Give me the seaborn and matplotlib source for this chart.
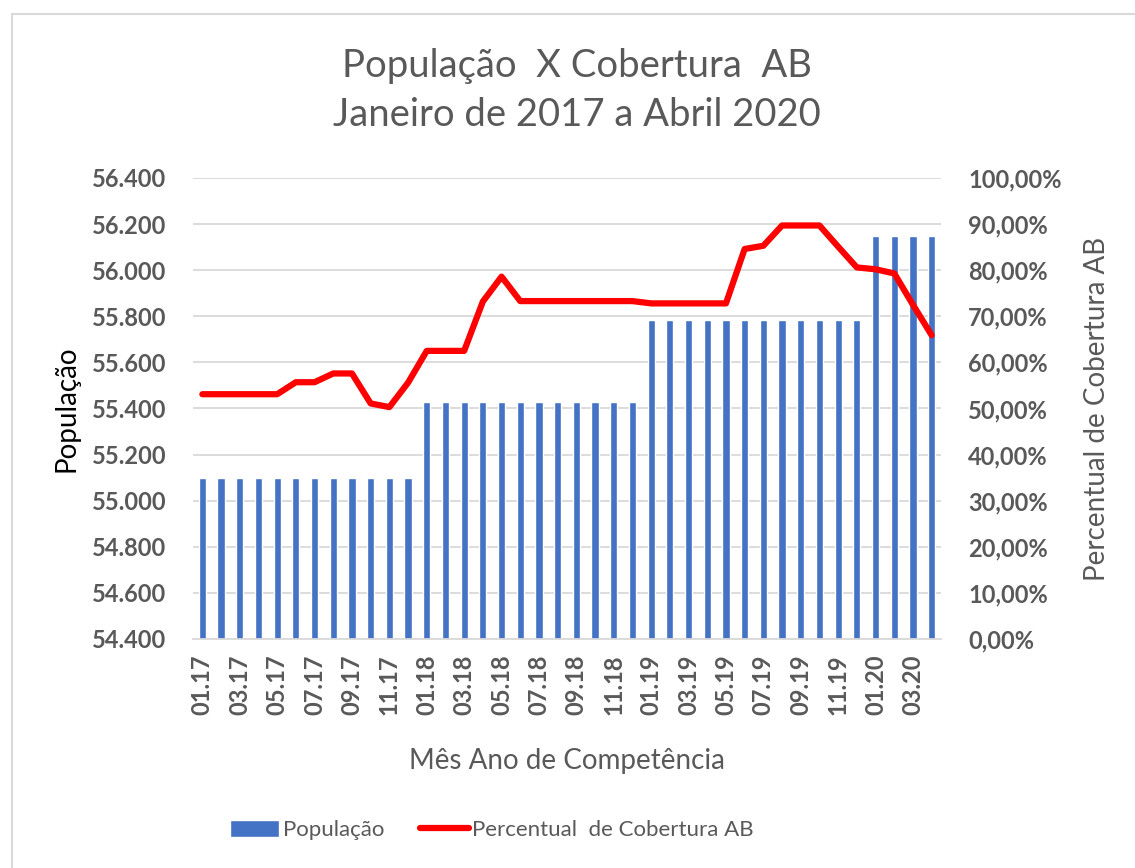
import matplotlib
matplotlib.use("Agg")
import matplotlib.pyplot as plt
import seaborn as sns
import pandas as pd
import numpy as np
from matplotlib.patches import Rectangle
from matplotlib.ticker import FuncFormatter, MultipleLocator

# ---- data ----
months = [f"{m:02d}.{y}" for y in (17, 18, 19) for m in range(1, 13)] + [f"{m:02d}.20" for m in range(1, 5)]
populacao = [55100] * 12 + [55430] * 12 + [55785] * 12 + [56150] * 4
cobertura = [53.1, 53.1, 53.1, 53.1, 53.1, 55.7, 55.7, 57.6, 57.6, 51.1, 50.3, 55.6,
             62.5, 62.5, 62.5, 73.2, 78.6, 73.3, 73.3, 73.3, 73.3, 73.3, 73.3, 73.3,
             72.8, 72.8, 72.8, 72.8, 72.8, 84.6, 85.3, 89.7, 89.7, 89.7, 85.1, 80.6,
             80.2, 79.3, 72.5, 65.9]

df = pd.DataFrame({"mes": months, "populacao": populacao, "cobertura": cobertura,
                   "idx": np.arange(len(months))})

sns.set_theme(style="white")
plt.rcParams["font.family"] = ["Lato", "DejaVu Sans"]

gray = "#595959"
fig = plt.figure(figsize=(11.35, 8.68), dpi=100)
ax = fig.add_axes([193 / 1135, 229 / 868, 748 / 1135, 461 / 868])

sns.barplot(data=df, x="mes", y="populacao", color="#4472C4", width=0.38,
            saturation=1, ax=ax, label="População")
ax.set_ylim(54400, 56400)
ax.yaxis.set_major_locator(MultipleLocator(200))
ax.yaxis.set_major_formatter(FuncFormatter(lambda v, p: f"{v:,.0f}".replace(",", ".")))
ax.set_xlim(-0.5, len(months) - 0.5)
ax.grid(axis="y", color="#D9D9D9", linewidth=1.3)
ax.set_axisbelow(True)
for s in ["top", "left", "right"]:
    ax.spines[s].set_visible(False)
ax.spines["bottom"].set_color("#D9D9D9")
ax.spines["bottom"].set_linewidth(1.3)

ticks = list(range(0, len(months), 2))
ax.set_xticks(ticks)
ax.set_xticklabels([months[i] for i in ticks], rotation=90, fontsize=17,
                   fontweight="bold", color=gray)
ax.tick_params(axis="x", length=0, pad=11)
ax.tick_params(axis="y", length=0, pad=19, labelsize=17, labelcolor=gray)
for t in ax.get_yticklabels():
    t.set_fontweight("bold")

ax.set_xlabel("Mês Ano de Competência", fontsize=20, color=gray)
ax.xaxis.set_label_coords(0.5, -0.236)
ax.set_ylabel("População", fontsize=20, color="black")
ax.yaxis.set_label_coords(-0.152, 0.5)

ax2 = ax.twinx()
sns.lineplot(data=df, x="idx", y="cobertura", color="#FF0000", linewidth=4.5,
             ax=ax2, label="Percentual  de Cobertura AB", legend=False)
ax2.set_ylim(0, 100)
ax2.yaxis.set_major_locator(MultipleLocator(10))
ax2.yaxis.set_major_formatter(FuncFormatter(lambda v, p: f"{v:.2f}%".replace(".", ",")))
ax2.tick_params(axis="y", length=0, pad=19.5, labelsize=17, labelcolor=gray)
for t in ax2.get_yticklabels():
    t.set_fontweight("bold")
for s in ["top", "left", "right", "bottom"]:
    ax2.spines[s].set_visible(False)
ax2.set_ylabel("Percentual de Cobertura AB", fontsize=20, color=gray)
ax2.yaxis.set_label_coords(1.191, 0.5)
ax2.set_xlim(-0.5, len(months) - 0.5)
ax2.set_xlabel("")
ax2.grid(False)

fig.text(577 / 1135, 1 - 66 / 868, "População  X Cobertura  AB", ha="center", va="center",
         fontsize=27.5, color=gray)
fig.text(577 / 1135, 1 - 115 / 868, "Janeiro de 2017 a Abril 2020", ha="center", va="center",
         fontsize=27.5, color=gray)

h1, l1 = ax.get_legend_handles_labels()
h2, l2 = ax2.get_legend_handles_labels()
if ax.get_legend():
    ax.get_legend().remove()
fig.legend(h1 + h2, l1 + l2, loc="center", bbox_to_anchor=(492 / 1135, 1 - 830 / 868),
           ncol=2, frameon=False, fontsize=16, handlelength=2.2, handleheight=0.85,
           columnspacing=1.6, handletextpad=0.15, labelcolor=gray)

fig.patches.append(Rectangle((12 / 1135, -0.05), 1.2, 1 - 14 / 868 + 0.05,
                             transform=fig.transFigure, fill=False,
                             edgecolor="#D9D9D9", linewidth=1.5))

fig.savefig("out.png", dpi=100)
